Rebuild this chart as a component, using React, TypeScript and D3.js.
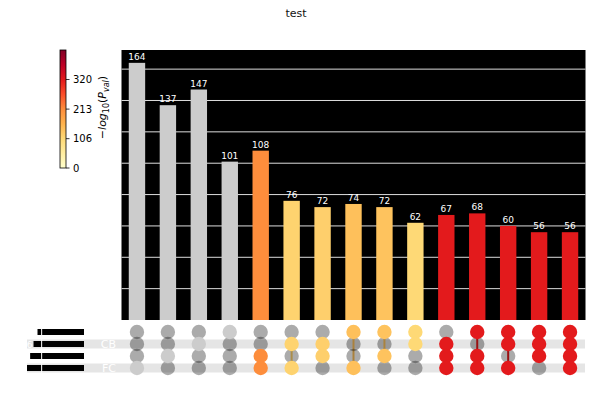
import * as d3 from "d3";

const width = 592;
const height = 400;

// intersection sizes, left to right
const counts = [164, 137, 147, 101, 108, 76, 72, 74, 72, 62, 67, 68, 60, 56, 56];
// -log10(p) per intersection, null = not significant
const logP = [null, null, null, null, 213.3, 115, 120, 141, 137, 106.7, 320, 320, 320, 320, 320];
// which sets (rows) take part in each intersection
const members = [
	[3], [2], [1], [0],
	[2, 3], [1, 3], [1, 2], [0, 3], [0, 2], [0, 1],
	[1, 2, 3], [0, 2, 3], [0, 1, 3], [0, 1, 2],
	[0, 1, 2, 3],
];
const setNames = ["", "CB", "", "FC"];
const cbarTicks = [0, 106, 213, 320];
const cbarMax = 426.7;
const ylOrRd = ["#ffffcc", "#ffeda0", "#fed976", "#feb24c", "#fd8d3c", "#fc4e2a", "#e31a1c", "#bd0026", "#800026"];

const barTop = 50;
const barBottom = 320;
const plotLeft = 121.5;
const plotRight = 585.5;
const rowTop = 326;
const rowStep = 12;
const sizeZero = 84;
const sizeEnd = 27;

const setSizes = setNames.map((_, r) =>
	d3.sum(counts.filter((_, i) => members[i].includes(r)))
);

const App = () => {
	const cols = d3.range(counts.length);
	const x = d3.scaleBand().domain(cols).range([plotLeft, plotRight]).paddingInner(0).paddingOuter(0);
	const bw = x.bandwidth() * 0.53;
	const cx = (i) => x(i) + x.bandwidth() / 2;

	const y = d3.scaleLinear().domain([0, d3.max(counts) * 1.05]).range([barBottom, barTop]);
	const gridTicks = d3.range(20, 180, 20);

	const row = d3.scaleBand().domain(d3.range(4)).range([rowTop, rowTop + rowStep * 4]);
	const ry = (r) => row(r) + row.bandwidth() / 2;

	const sx = d3.scaleLinear().domain([0, d3.max(setSizes)]).range([sizeZero, sizeEnd]);

	const cScale = d3
		.scaleLinear()
		.domain(ylOrRd.map((_, i) => (i / (ylOrRd.length - 1)) * cbarMax))
		.range(ylOrRd)
		.interpolate(d3.interpolateRgb);
	const colour = (i) => (logP[i] == null ? "#cccccc" : cScale(logP[i]));

	const cb = d3.scaleLinear().domain([0, cbarMax]).range([168, 50]);

	return (
		<svg width={width} height={height} style={{ position: "absolute", left: 0, top: 0 }} fontFamily="DejaVu Sans">
			<defs>
				<linearGradient id="cbar" x1="0" y1="1" x2="0" y2="0">
					{ylOrRd.map((c, i) => (
						<stop key={i} offset={i / (ylOrRd.length - 1)} stopColor={c} />
					))}
				</linearGradient>
			</defs>

			<text x={296} y={17} textAnchor="middle" fontSize={11} fill="#111">test</text>

			{/* bar panel */}
			<rect x={plotLeft} y={barTop} width={plotRight - plotLeft} height={barBottom - barTop} fill="#000" />
			{gridTicks.map((t) => (
				<line key={t} x1={plotLeft} x2={plotRight} y1={y(t)} y2={y(t)} stroke="#dddddd" strokeWidth={1} />
			))}
			{counts.map((c, i) => (
				<g key={i}>
					<rect x={cx(i) - bw / 2} y={y(c)} width={bw} height={barBottom - y(c)} fill={colour(i)} />
					<text x={cx(i)} y={y(c) - 3} textAnchor="middle" fontSize={9} fill="#fff">{c}</text>
				</g>
			))}

			{/* colour bar */}
			<rect x={60} y={50} width={6} height={118} fill="url(#cbar)" stroke="#000" strokeWidth={0.8} />
			{cbarTicks.map((t) => (
				<g key={t}>
					<line x1={66} x2={69.5} y1={cb(t)} y2={cb(t)} stroke="#000" strokeWidth={0.8} />
					<text x={73} y={cb(t) + 3.5} fontSize={10} fill="#000">{t}</text>
				</g>
			))}
			<text transform="translate(106,107.5) rotate(-90)" textAnchor="middle" fontSize={11} fill="#000">
				<tspan>−</tspan>
				<tspan fontStyle="italic">log</tspan>
				<tspan fontSize={8} dy={3}>10</tspan>
				<tspan dy={-3}>(</tspan>
				<tspan fontStyle="italic">P</tspan>
				<tspan fontStyle="italic" fontSize={8} dy={3}>val</tspan>
				<tspan dy={-3}>)</tspan>
			</text>

			{/* matrix stripes */}
			{[1, 3].map((r) => (
				<rect key={r} x={sizeEnd} y={ry(r) - 4.5} width={585 - sizeEnd} height={9} fill="#e5e5e5" />
			))}

			{/* set sizes */}
			{setSizes.map((s, r) => (
				<g key={r}>
					<rect x={sx(s)} y={ry(r) - 3} width={sizeZero - sx(s)} height={6} fill="#000" />
					<text x={sx(s) - 1} y={ry(r) + 3.5} textAnchor="end" fontSize={9} fill="#fff">{s}</text>
					<text x={116} y={ry(r) + 4} textAnchor="end" fontSize={11} fill="#fff">{setNames[r]}</text>
				</g>
			))}
			<line x1={sx(500)} x2={sx(500)} y1={rowTop} y2={rowTop + rowStep * 4} stroke="#fff" strokeWidth={1} />

			{/* connecting lines */}
			{members.map((m, i) =>
				m.length > 1 ? (
					<line key={i} x1={cx(i)} x2={cx(i)} y1={ry(d3.min(m))} y2={ry(d3.max(m))} stroke={colour(i)} strokeWidth={2} />
				) : null
			)}
			{/* dots */}
			{members.map((m, i) =>
				d3.range(4).map((r) =>
					m.includes(r) ? null : (
						<circle key={`${i}-${r}`} cx={cx(i)} cy={ry(r)} r={7.2} fill="#000" fillOpacity={0.33} />
					)
				)
			)}
			{members.map((m, i) =>
				m.map((r) => <circle key={`m${i}-${r}`} cx={cx(i)} cy={ry(r)} r={7.2} fill={colour(i)} />)
			)}
		</svg>
	);
};

export default App;
